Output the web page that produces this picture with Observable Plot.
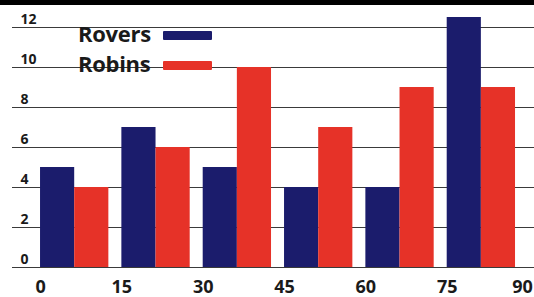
<!DOCTYPE html>
<html>
<head>
<meta charset="utf-8">
<script src="https://cdn.jsdelivr.net/npm/d3@7"></script>
<script src="https://cdn.jsdelivr.net/npm/@observablehq/plot@0.6"></script>
<style>
  html, body { margin: 0; padding: 0; background: #fff; }
  #wrap { position: relative; width: 534px; height: 297px; overflow: hidden; font-family: "Open Sans", sans-serif; }
  #band { position: absolute; left: 0; top: 0; width: 534px; height: 5px; background: #000; }
  #legend { position: absolute; left: 78px; top: 18px; }
  .item { position: relative; height: 30px; font-size: 22px; font-weight: 700; color: #1a1a1a; line-height: 30px; letter-spacing: -0.3px; }
  .item span.sw { position: absolute; left: 85px; top: 13px; width: 49px; height: 9px; border-radius: 1px; }
</style>
</head>
<body>
<div id="wrap">
  <div id="chart"></div>
  <div id="band"></div>
  <div id="legend"></div>
</div>
<script>
const groups = [0, 15, 30, 45, 60, 75];
const rovers = [5, 7, 5, 4, 4, 12.5];
const robins = [4, 6, 10, 7, 9, 9];
const seriesNames = ["Rovers", "Robins"];
const seriesColors = ["#1b1c6c", "#e63228"];
const yTicks = [0, 2, 4, 6, 8, 10, 12];
const xTicks = [0, 15, 30, 45, 60, 75, 90];

const values = [rovers, robins];
const data = groups.flatMap((g, i) => seriesNames.map((s, k) => ({series: s, k, start: g, value: values[k][i]})));
const barW = 6.3;

const chart = Plot.plot({
  width: 534,
  height: 297,
  marginLeft: 12,
  marginRight: 0,
  marginTop: 27,
  marginBottom: 30,
  style: {fontFamily: "Open Sans, sans-serif", color: "#1a1a1a", background: "transparent", overflow: "visible"},
  x: {domain: [-5.17, 91.1], axis: null},
  y: {domain: [0, 12], axis: null},
  color: {domain: seriesNames, range: seriesColors},
  marks: [
    Plot.ruleY(yTicks, {stroke: "#3a3a3a", strokeWidth: 1}),
    Plot.rect(data, {
      x1: d => d.start + d.k * barW,
      x2: d => d.start + (d.k + 1) * barW,
      y1: 0,
      y2: "value",
      fill: "series"
    }),
    Plot.text(yTicks, {y: d => d, text: d => String(d), frameAnchor: "left", dx: 8, dy: -8, fontSize: 14, fontWeight: "bold", fill: "#1a1a1a"}),
    Plot.axisX(xTicks.slice(0, -1), {tickSize: 0, tickPadding: 13, fontSize: 18, fontWeight: "bold", label: null}),
    Plot.axisX(xTicks.slice(-1), {tickSize: 0, tickPadding: 13, fontSize: 18, fontWeight: "bold", dx: -6, label: null})
  ]
});
document.getElementById("chart").appendChild(chart);

const legend = document.getElementById("legend");
seriesNames.forEach((s, k) => {
  const div = document.createElement("div");
  div.className = "item";
  div.textContent = s;
  const sw = document.createElement("span");
  sw.className = "sw";
  sw.style.background = seriesColors[k];
  div.appendChild(sw);
  legend.appendChild(div);
});
</script>
</body>
</html>
